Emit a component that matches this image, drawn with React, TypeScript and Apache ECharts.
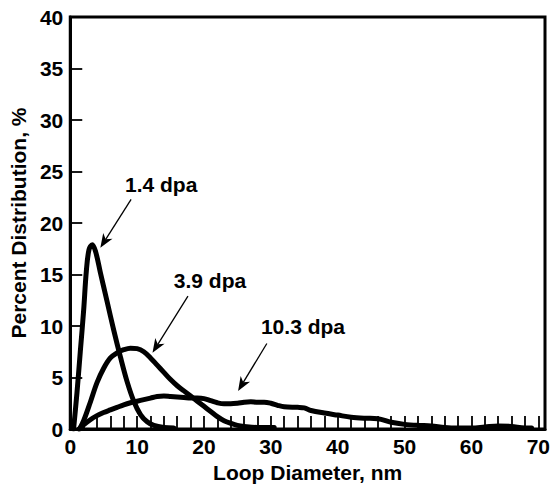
import React, { useEffect, useRef } from "react";
import * as echarts from "echarts";

// ---- data ----
const xLabelValues = [0, 10, 20, 30, 40, 50, 60, 70];
const yLabelValues = [0, 5, 10, 15, 20, 25, 30, 35, 40];

const dpa14X = [0.5, 1, 1.5, 2, 2.4, 2.8, 3.3, 3.8, 4.5, 5.5, 6.5, 7.5, 8.5, 9.5, 10.5, 11.5, 12.5, 14, 15.5];
const dpa14Y = [0, 3.5, 7.5, 11.5, 15.3, 17.4, 17.9, 17.2, 15.2, 12.4, 9.6, 7.0, 4.6, 2.7, 1.4, 0.7, 0.35, 0.15, 0.1];

const dpa39X = [1.4, 2, 3, 4, 5, 6, 7, 8, 9, 10, 11, 12, 13, 14, 15, 16, 17, 18, 19, 20, 21, 22, 23, 24, 25, 26, 28, 30.5];
const dpa39Y = [0, 0.8, 2.6, 4.5, 5.9, 6.9, 7.4, 7.7, 7.85, 7.8, 7.5, 6.9, 6.2, 5.5, 4.8, 4.2, 3.7, 3.2, 2.7, 2.2, 1.7, 1.2, 0.8, 0.55, 0.35, 0.25, 0.15, 0.15];

const dpa103X = [1.3, 2, 3, 4, 5, 6, 7, 8, 9, 10, 11, 12, 13, 14, 15, 16, 17, 18, 19, 20, 21, 22, 23, 24, 25, 26, 27, 28, 29, 30, 31, 32, 34, 35, 36, 38, 40, 42, 44, 46, 48, 50, 52, 54, 56, 58, 60, 62, 64, 66, 68, 69];
const dpa103Y = [0, 0.4, 0.9, 1.3, 1.6, 1.85, 2.1, 2.35, 2.55, 2.7, 2.85, 3.0, 3.15, 3.2, 3.15, 3.1, 3.05, 3.0, 3.0, 2.95, 2.75, 2.55, 2.45, 2.45, 2.5, 2.6, 2.65, 2.6, 2.6, 2.5, 2.3, 2.15, 2.1, 2.05, 1.8, 1.55, 1.35, 1.15, 1.05, 1.0, 0.65, 0.45, 0.35, 0.3, 0.15, 0.1, 0.1, 0.2, 0.3, 0.25, 0.1, 0.1];

const annotationTexts = ["1.4 dpa", "3.9 dpa", "10.3 dpa"];
const annotationTextAt = [[13.6, 23.7], [20.9, 14.4], [34.8, 10.0]];
const arrowFrom = [[9.1, 22.3], [17.6, 12.9], [29.4, 8.3]];
const arrowTo = [[4.5, 17.6], [12.3, 7.4], [25.1, 3.7]];

const FONT = "'Liberation Sans', Arial, Helvetica, sans-serif";
const FS = 21;

function zip(xs: number[], ys: number[]) {
  return xs.map((x, i) => [x, ys[i]]);
}

export default function App() {
  const ref = useRef<HTMLDivElement>(null);
  useEffect(() => {
    const chart = echarts.init(ref.current!, null, { renderer: "svg" });
    const lineSeries = (name: string, data: number[][]) => ({
      name,
      type: "line",
      data,
      smooth: 0.35,
      showSymbol: false,
      symbol: "none",
      lineStyle: { color: "#000", width: 5, cap: "round", join: "round" },
      silent: true,
    });
    const labelStyle = { color: "#000", fontWeight: "bold", fontSize: FS, fontFamily: FONT };
    chart.setOption({
      animation: false,
      backgroundColor: "#fff",
      grid: { left: 69, right: 10, top: 17, bottom: 58, show: true, borderColor: "#000", borderWidth: 3 },
      xAxis: {
        type: "value",
        min: 0,
        max: 71,
        interval: 2,
        name: "Loop Diameter, nm",
        nameLocation: "middle",
        nameGap: 33,
        nameTextStyle: labelStyle,
        axisLine: { show: true, lineStyle: { color: "#000", width: 3 } },
        axisTick: { show: true, inside: true, length: 13, lineStyle: { color: "#000", width: 1.8 } },
        axisLabel: {
          ...labelStyle,
          margin: 7,
          formatter: (v: number) => (xLabelValues.includes(v) ? String(v) : ""),
        },
        splitLine: { show: false },
      },
      yAxis: {
        type: "value",
        min: 0,
        max: 40,
        interval: 5,
        name: "Percent Distribution, %",
        nameLocation: "middle",
        nameGap: 39,
        nameTextStyle: labelStyle,
        axisLine: { show: true, lineStyle: { color: "#000", width: 3 } },
        axisTick: { show: true, inside: true, length: 12, lineStyle: { color: "#000", width: 1.8 } },
        axisLabel: {
          ...labelStyle,
          margin: 7,
          formatter: (v: number) => (yLabelValues.includes(v) ? String(v) : ""),
        },
        splitLine: { show: false },
      },
      series: [
        lineSeries("1.4 dpa", zip(dpa14X, dpa14Y)),
        lineSeries("3.9 dpa", zip(dpa39X, dpa39Y)),
        lineSeries("10.3 dpa", zip(dpa103X, dpa103Y)),
      ],
    });

    const graphics: any[] = [];
    annotationTexts.forEach((t, i) => {
      const [tx, ty] = chart.convertToPixel({ gridIndex: 0 }, annotationTextAt[i]) as number[];
      const [sx, sy] = chart.convertToPixel({ gridIndex: 0 }, arrowFrom[i]) as number[];
      const [ex, ey] = chart.convertToPixel({ gridIndex: 0 }, arrowTo[i]) as number[];
      const dx = ex - sx;
      const dy = ey - sy;
      const len = Math.hypot(dx, dy);
      const ux = dx / len;
      const uy = dy / len;
      const px = -uy;
      const py = ux;
      const headL = 14;
      const headW = 5.5;
      const notch = 10;
      const bx = ex - ux * headL;
      const by = ey - uy * headL;
      const nx = ex - ux * notch;
      const ny = ey - uy * notch;
      graphics.push({
        type: "text",
        x: tx,
        y: ty,
        silent: true,
        style: {
          text: t,
          fill: "#000",
          font: `bold ${FS}px ${FONT}`,
          textAlign: "center",
          textVerticalAlign: "middle",
        },
      });
      graphics.push({
        type: "line",
        silent: true,
        shape: { x1: sx, y1: sy, x2: nx, y2: ny },
        style: { stroke: "#000", lineWidth: 1.3 },
      });
      graphics.push({
        type: "polygon",
        silent: true,
        shape: {
          points: [
            [ex, ey],
            [bx + px * headW, by + py * headW],
            [nx, ny],
            [bx - px * headW, by - py * headW],
          ],
        },
        style: { fill: "#000" },
      });
    });
    chart.setOption({ graphic: graphics });

    return () => chart.dispose();
  }, []);
  return (
    <div
      ref={ref}
      style={{ position: "absolute", left: 0, top: 0, width: 555, height: 488 }}
    />
  );
}
